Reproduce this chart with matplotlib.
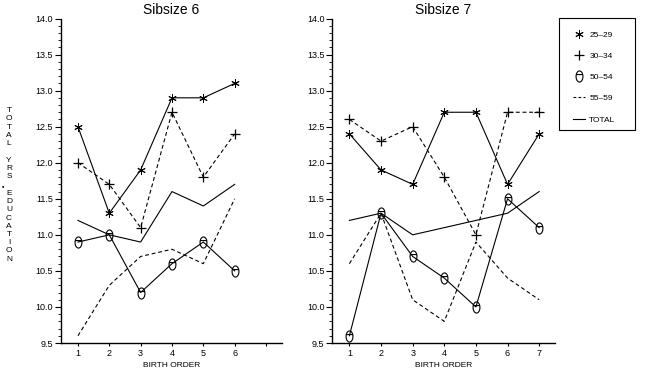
import matplotlib
matplotlib.use("Agg")
import numpy as np
import matplotlib.pyplot as plt
from matplotlib.ticker import MultipleLocator, FixedLocator
from matplotlib.lines import Line2D
from matplotlib.path import Path
from matplotlib.patches import Rectangle

plt.rcParams['font.family'] = ['Liberation Sans', 'DejaVu Sans']

# ---- data ----
birth6 = [1, 2, 3, 4, 5, 6]
s6_25_29 = [12.5, 11.3, 11.9, 12.9, 12.9, 13.1]
s6_30_34 = [12.0, 11.7, 11.1, 12.7, 11.8, 12.4]
s6_50_54 = [10.9, 11.0, 10.2, 10.6, 10.9, 10.5]
s6_55_59 = [9.6, 10.3, 10.7, 10.8, 10.6, 11.5]
s6_total = [11.2, 11.0, 10.9, 11.6, 11.4, 11.7]

birth7 = [1, 2, 3, 4, 5, 6, 7]
s7_25_29 = [12.4, 11.9, 11.7, 12.7, 12.7, 11.7, 12.4]
s7_30_34 = [12.6, 12.3, 12.5, 11.8, 11.0, 12.7, 12.7]
s7_50_54 = [9.6, 11.3, 10.7, 10.4, 10.0, 11.5, 11.1]
s7_55_59 = [10.6, 11.3, 10.1, 9.8, 10.9, 10.4, 10.1]
s7_total = [11.2, 11.3, 11.0, 11.1, 11.2, 11.3, 11.6]

labels = ['25\u201329', '30\u201334', '50\u201354', '55\u201359', 'TOTAL']
titles = ['Sibsize 6', 'Sibsize 7']
yticks = [9.5, 10.0, 10.5, 11.0, 11.5, 12.0, 12.5, 13.0, 13.5, 14.0]

# "0"-like marker: tall rounded oval with a bar across
t = np.linspace(0, 2 * np.pi, 40)
ov = np.column_stack([0.62 * np.cos(t), 1.0 * np.sin(t)])
verts = list(ov) + [(-0.62, 0.35), (0.62, 0.35)]
codes = [Path.MOVETO] + [Path.LINETO] * (len(ov) - 1) + [Path.MOVETO, Path.LINETO]
oval_marker = Path(verts, codes)

dash = (0, (3.5, 2.5))
styles = [
    dict(ls='-', marker=(6, 2, 0), ms=6, mew=0.7),
    dict(ls=dash, marker='+', ms=6.5, mew=0.9),
    dict(ls='-', marker=oval_marker, ms=8, mew=0.8),
    dict(ls=dash, marker=None),
    dict(ls='-', marker=None),
]

fig = plt.figure(figsize=(6.48, 3.73), dpi=100)
W, H = 648, 373
def rect(l, r, t, b):
    return [l / W, 1 - b / H, (r - l) / W, (b - t) / H]

ax1 = fig.add_axes(rect(60.7, 281.7, 18.5, 343))
ax2 = fig.add_axes(rect(332, 555, 18.5, 343))

panels = [
    (ax1, birth6, [s6_25_29, s6_30_34, s6_50_54, s6_55_59, s6_total], [1, 2, 3, 4, 5, 6, 7], ['1', '2', '3', '4', '5', '6', '']),
    (ax2, birth7, [s7_25_29, s7_30_34, s7_50_54, s7_55_59, s7_total], [1, 2, 3, 4, 5, 6, 7], ['1', '2', '3', '4', '5', '6', '7']),
]

for (ax, xs, series, xt, xtl), title in zip(panels, titles):
    for ys, st in zip(series, styles):
        ax.plot(xs, ys, color='black', lw=0.8, mfc='none', mec='black', **st)
    ax.set_xlim(0.45, 7.5)
    ax.set_ylim(9.5, 14.0)
    ax.spines['top'].set_visible(False)
    ax.spines['right'].set_visible(False)
    for s in ['left', 'bottom']:
        ax.spines[s].set_linewidth(1.0)
    ax.yaxis.set_major_locator(FixedLocator(yticks))
    ax.set_yticklabels([f'{v:.1f}' for v in yticks], fontsize=6.5)
    ax.yaxis.set_minor_locator(MultipleLocator(0.1))
    ax.xaxis.set_major_locator(FixedLocator(xt))
    ax.set_xticklabels(xtl, fontsize=6.5)
    ax.tick_params(axis='y', which='major', length=4, width=0.8, pad=1.5)
    ax.tick_params(axis='y', which='minor', length=2.5, width=0.6)
    ax.tick_params(axis='x', which='major', length=2.5, width=0.8, pad=2)
    ax.set_xlabel('BIRTH ORDER', fontsize=6, labelpad=3)
    pos = ax.get_position()
    fig.text(pos.x0 + pos.width / 2, 1 - 10 / H, title, fontsize=10, ha='center', va='center')

# y-axis label as stacked letters
ylab = 'TOTAL YRS EDUCATION'
fig.text(9 / W, 1 - 185 / H, '\n'.join(ylab), fontsize=6, ha='center', va='center',
         linespacing=1.25)
fig.text(3 / W, 1 - 187 / H, '\u2022', fontsize=5, ha='center', va='center')

# legend (marker-only handles for the marked series)
handles = []
for i, st in enumerate(styles):
    st2 = dict(st)
    if st2['marker'] is not None:
        st2['ls'] = 'none'
    handles.append(Line2D([], [], color='black', lw=0.8, mfc='none', mec='black', **st2))
handles[3] = Line2D([], [], color='black', lw=0.8, ls=(0, (2.5, 2)))
leg = fig.legend(handles, labels, loc='upper left', bbox_to_anchor=(573 / W, 1 - 31 / H),
                 fontsize=6, frameon=False,
                 handlelength=1.45, labelspacing=1.6, borderpad=0, handletextpad=0.5,
                 borderaxespad=0)
fig.patches.append(Rectangle((559 / W, 1 - 130 / H), 76 / W, 112 / H, transform=fig.transFigure,
                             fill=False, edgecolor='black', lw=0.8))

fig.savefig('out.png', dpi=100)
